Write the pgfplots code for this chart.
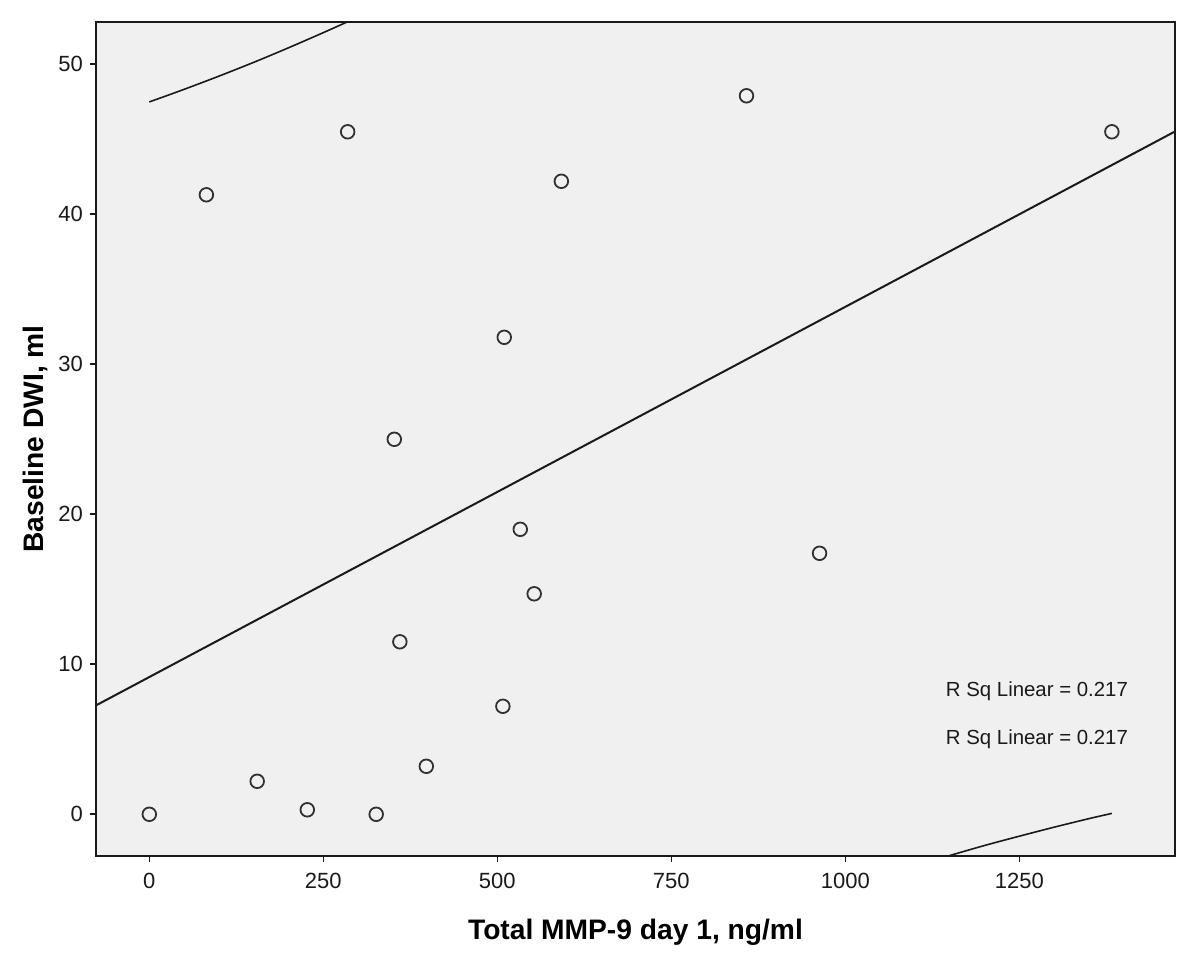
\documentclass[border=0pt]{standalone}
\usepackage{fontspec}
\setmainfont{Liberation Sans}
\usepackage{pgfplots}
\pgfplotsset{compat=1.18}
\definecolor{bgc}{HTML}{F0F0F0}
\definecolor{ink}{HTML}{1A1A1A}
\begin{document}
\begin{tikzpicture}
\begin{axis}[
  scale only axis,
  width=539.5pt, height=417pt,
  xmin=-76.6, xmax=1473.7,
  ymin=-2.78, ymax=52.82,
  xtick={0,250,500,750,1000,1250},
  ytick={0,10,20,30,40,50},
  axis background/.style={fill=bgc},
  axis line style={line width=0.8pt, ink},
  tick style={line width=0.8pt, ink},
  tick align=outside,
  major tick length=3pt,
  xtick pos=bottom, ytick pos=left,
  /pgf/number format/assume math mode=true,
  /pgf/number format/set thousands separator={},
  tick label style={font=\fontsize{11}{13}\selectfont, text=ink},
  xticklabel style={yshift=-2pt},
  label style={font=\fontsize{14.1}{16}\selectfont\bfseries},
  xlabel={Total MMP-9 day 1, ng/ml},
  ylabel={Baseline DWI, ml},
  xlabel style={yshift=-8.5pt},
  ylabel style={yshift=-1.5pt},
  clip=true,
]
\addplot[only marks, mark=o, mark size=3.4pt, mark options={line width=0.9pt, draw=ink!90}] coordinates {
(0,0) (82,41.3) (155,2.2) (227,0.3) (285,45.5) (326,0) (352,25) (360,11.5)
(398,3.2) (508,7.2) (510,31.8) (533,19) (553,14.7) (592,42.2) (858,47.9)
(963,17.4) (1383,45.5)
};
\addplot[ink, line width=1pt] coordinates {(-76.6,7.26) (1473.7,45.52)};
\addplot[ink, line width=0.8pt, smooth] coordinates {
(0,47.49) (50,48.33) (100,49.21) (150,50.13) (200,51.10) (250,52.11) (300,53.15)
};
\addplot[ink, line width=0.8pt, smooth] coordinates {
(1100,-3.44) (1150,-2.75) (1200,-2.08) (1250,-1.46) (1300,-0.86) (1350,-0.29) (1383,0.06)
};
\node[anchor=west, font=\fontsize{10.2}{12}\selectfont, text=ink, inner sep=0pt] at (axis cs:1144,8.2) {R Sq Linear = 0.217};
\node[anchor=west, font=\fontsize{10.2}{12}\selectfont, text=ink, inner sep=0pt] at (axis cs:1144,5.0) {R Sq Linear = 0.217};
\end{axis}
\path[use as bounding box] (-48pt,-53.5pt) rectangle (552pt,428pt);
\end{tikzpicture}
\end{document}
